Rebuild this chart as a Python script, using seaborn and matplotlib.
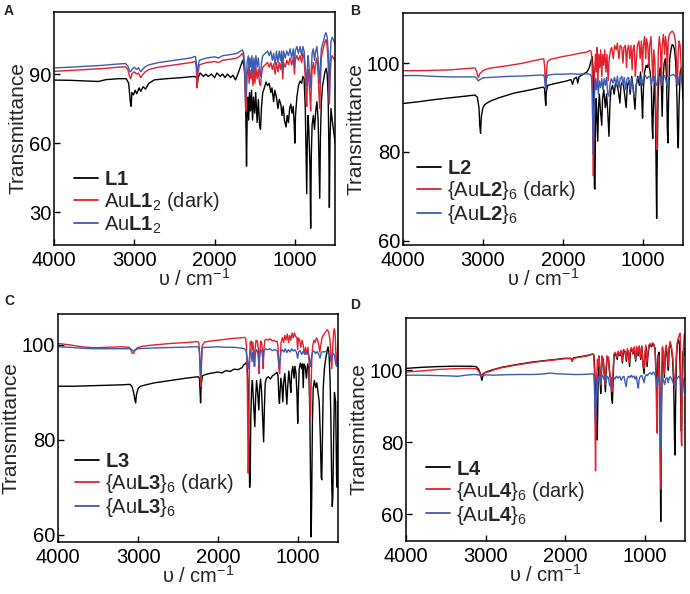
import matplotlib
matplotlib.use("Agg")
import matplotlib.pyplot as plt
import seaborn as sns

# -------------------------------
# DATA (wavenumber cm-1, transmittance %)
# -------------------------------
a_l1 = [(4000, 87.4), (3800, 87.3), (3600, 87.0), (3450, 86.8), (3350, 87.6), (3200, 88.0), (3100, 88.0),
        (3070, 86), (3050, 78), (3040, 76), (3030, 82), (3010, 81), (2990, 83), (2970, 81.5), (2940, 84),
        (2920, 82.5), (2890, 84.5), (2860, 83.5), (2820, 86), (2750, 87.5), (2600, 88), (2400, 88.5),
        (2250, 89), (2225, 88.5), (2215, 85.5), (2205, 88.5), (2180, 90.5), (2140, 89), (2110, 90),
        (2080, 89), (2040, 90), (2000, 88.5), (1970, 90.5), (1930, 89), (1900, 90), (1870, 88.5),
        (1840, 90), (1800, 88.5), (1770, 89.5), (1740, 87.5), (1715, 89.5), (1690, 92), (1665, 94.5),
        (1650, 96), (1635, 94), (1620, 88), (1610, 70), (1602, 50), (1594, 72), (1585, 80), (1575, 70),
        (1565, 82), (1552, 74), (1540, 83), (1527, 70), (1515, 80), (1500, 73), (1488, 82), (1470, 69),
        (1455, 79), (1440, 68), (1428, 66), (1415, 76), (1400, 82), (1380, 84), (1360, 86.5), (1340, 85),
        (1320, 86), (1300, 82), (1285, 84), (1265, 78), (1250, 83), (1230, 80), (1210, 75), (1195, 79),
        (1175, 77), (1160, 72), (1145, 76), (1130, 70), (1110, 67), (1095, 72), (1080, 69), (1065, 75),
        (1050, 77), (1035, 73), (1020, 76), (1008, 68), (1000, 60), (992, 72), (975, 80), (955, 85),
        (935, 87), (915, 86), (900, 89), (885, 88), (870, 75), (860, 55), (852, 38), (845, 60), (835, 72),
        (825, 65), (812, 50), (803, 23), (795, 55), (785, 68), (770, 72), (755, 66), (740, 74), (725, 78),
        (710, 70), (698, 50), (690, 36), (682, 62), (670, 78), (655, 85), (640, 88), (625, 91), (610, 92.5),
        (597, 90), (585, 80), (577, 60), (570, 32), (562, 62), (550, 75), (535, 70), (520, 66), (505, 62),
        (500, 60)]

a_dark = [(4000, 91.2), (3800, 91.6), (3600, 92.0), (3400, 92.4), (3200, 93.0), (3110, 93.2), (3080, 92),
          (3060, 89), (3045, 88), (3030, 90), (3000, 91), (2970, 90), (2950, 90.5), (2920, 88.5),
          (2900, 89.5), (2870, 90.8), (2820, 92), (2700, 93), (2500, 94), (2300, 95), (2240, 95.5),
          (2228, 93), (2218, 84), (2208, 90), (2190, 94), (2150, 94.5), (2100, 95), (2000, 95.5), (1950, 95),
          (1900, 96), (1800, 96.5), (1720, 97), (1680, 98), (1655, 99), (1640, 97.5), (1625, 92), (1612, 74),
          (1604, 80), (1595, 90), (1580, 93), (1570, 86), (1560, 92), (1548, 88), (1535, 93), (1522, 85),
          (1510, 92), (1498, 86), (1485, 93), (1470, 88), (1455, 92), (1440, 86), (1428, 85), (1415, 90),
          (1400, 93), (1370, 94), (1340, 95), (1320, 93), (1300, 95), (1280, 92), (1265, 94.5), (1245, 90),
          (1230, 95), (1210, 91), (1195, 95), (1178, 92), (1165, 96), (1150, 88), (1140, 95), (1120, 93),
          (1100, 96), (1080, 94), (1060, 97), (1040, 94), (1020, 97), (1005, 90), (995, 96), (975, 98),
          (955, 96), (935, 98), (915, 95), (900, 99), (885, 97), (870, 88), (860, 80), (852, 76), (845, 85),
          (835, 92), (825, 88), (812, 80), (803, 74), (795, 84), (785, 92), (770, 95), (755, 90), (740, 95),
          (725, 97), (710, 90), (698, 80), (690, 75), (682, 86), (670, 97), (655, 100), (640, 102),
          (625, 104), (612, 105), (597, 102), (585, 95), (577, 85), (570, 77), (562, 88), (550, 96),
          (535, 98), (520, 97), (500, 96)]

a_light = [(4000, 92.7), (3800, 93.0), (3600, 93.4), (3400, 93.8), (3200, 94.4), (3110, 94.6), (3080, 93.5),
           (3060, 91.5), (3045, 91), (3030, 92), (3000, 93), (2970, 92), (2950, 92.8), (2920, 91), (2900, 92),
           (2870, 93), (2820, 94), (2700, 95), (2500, 96), (2300, 97), (2240, 97.7), (2228, 95.5), (2218, 90),
           (2208, 93), (2190, 96), (2150, 96.5), (2100, 97), (2000, 97.5), (1950, 97), (1900, 98), (1800, 98.5),
           (1720, 99), (1680, 100), (1655, 100.5), (1640, 99.5), (1625, 95), (1612, 80), (1604, 86),
           (1595, 95), (1580, 98), (1570, 91), (1560, 97), (1548, 93), (1535, 98), (1522, 90), (1510, 97),
           (1498, 91), (1485, 98), (1470, 93), (1455, 97), (1440, 91), (1428, 89), (1415, 95), (1400, 98),
           (1370, 99), (1340, 100), (1320, 98), (1300, 100), (1280, 96), (1265, 99), (1245, 94), (1230, 100),
           (1210, 95), (1195, 100), (1178, 96), (1165, 100), (1150, 92), (1140, 100), (1120, 97), (1100, 100),
           (1080, 98), (1060, 101), (1040, 97), (1020, 101), (1005, 94), (995, 100), (975, 102), (955, 99),
           (935, 102), (915, 98), (900, 102), (885, 100), (870, 93), (860, 88), (852, 85), (845, 92),
           (835, 98), (825, 94), (812, 88), (803, 84), (795, 92), (785, 99), (770, 101), (755, 96), (740, 100),
           (725, 102), (710, 96), (698, 89), (690, 86), (682, 94), (670, 101), (655, 103), (640, 105),
           (625, 107), (612, 108), (597, 106), (585, 100), (577, 90), (570, 80), (562, 95), (550, 104),
           (535, 106), (520, 105), (500, 103)]

b_l2 = [(4000, 90.9), (3800, 91.3), (3600, 91.8), (3400, 92.2), (3200, 92.6), (3100, 92.8), (3070, 92.3),
        (3050, 90), (3040, 86), (3030, 84.2), (3020, 88), (3000, 90), (2980, 90.6), (2950, 91), (2900, 91.5),
        (2800, 92.2), (2600, 93.3), (2400, 94.0), (2250, 94.6), (2230, 94.3), (2222, 92), (2215, 90.5),
        (2208, 93.5), (2190, 95), (2100, 95.4), (2000, 95.8), (1950, 96), (1900, 96.3), (1880, 95.2),
        (1860, 96.5), (1830, 96.8), (1815, 95.5), (1800, 96.9), (1750, 97.5), (1700, 98.0), (1670, 99),
        (1650, 100.5), (1635, 101.5), (1625, 99), (1615, 90), (1607, 72), (1600, 71.6), (1593, 86),
        (1585, 92), (1575, 88), (1565, 82.4), (1555, 90), (1545, 93), (1530, 89), (1515, 86), (1505, 92),
        (1490, 94), (1470, 90), (1455, 93), (1440, 89), (1425, 83.5), (1412, 91), (1400, 94), (1380, 95),
        (1360, 93), (1340, 96), (1310, 94), (1288, 91), (1275, 95), (1250, 96), (1230, 93), (1210, 90),
        (1195, 95), (1175, 96), (1160, 93), (1140, 97), (1120, 94), (1100, 89.6), (1085, 95), (1065, 97),
        (1045, 95), (1030, 98), (1015, 92), (1005, 87.6), (995, 94), (980, 98), (960, 99.5), (945, 99),
        (930, 100), (910, 98), (895, 95), (885, 86), (878, 83), (870, 90), (855, 97), (843, 88), (835, 75),
        (829, 65), (822, 78), (812, 92), (800, 97), (785, 99), (770, 95), (760, 88), (750, 96), (735, 100),
        (720, 101), (705, 97), (695, 85), (688, 82), (680, 92), (665, 101), (650, 103), (635, 104.2),
        (620, 104), (605, 103), (590, 100), (575, 92), (565, 82), (558, 80.9), (550, 90), (535, 98),
        (520, 99), (505, 94), (500, 92)]

b_dark = [(4000, 98.3), (3800, 98.3), (3600, 98.4), (3400, 98.5), (3200, 98.8), (3100, 98.9), (3080, 98.2),
          (3065, 97), (3055, 96.8), (3040, 97.6), (3000, 98.3), (2950, 98.7), (2900, 98.9), (2700, 99.4),
          (2500, 100.0), (2300, 100.8), (2240, 101.0), (2228, 99), (2220, 95), (2214, 94.6), (2207, 98),
          (2195, 100.3), (2150, 100.9), (2000, 101.5), (1900, 101.8), (1800, 102.2), (1700, 102.5),
          (1660, 102.9), (1645, 102.5), (1635, 99), (1627, 85), (1620, 74.6), (1613, 85), (1605, 97),
          (1595, 102), (1583, 98), (1575, 103.5), (1563, 96), (1553, 102), (1540, 99), (1528, 103),
          (1515, 97), (1505, 102), (1490, 99.5), (1478, 103), (1463, 98), (1450, 102), (1435, 96),
          (1422, 101), (1405, 103), (1390, 103.5), (1370, 101), (1355, 104), (1335, 103), (1320, 104.5),
          (1300, 101), (1285, 104), (1265, 103.5), (1250, 100), (1238, 103.5), (1220, 104), (1205, 99),
          (1195, 103), (1180, 104), (1165, 101), (1150, 104), (1135, 98.5), (1125, 103), (1110, 104),
          (1095, 97), (1085, 100), (1070, 104), (1050, 105), (1035, 101), (1020, 105), (1005, 98), (995, 104),
          (980, 106), (965, 101), (955, 105.5), (940, 104), (925, 99), (915, 104), (900, 106), (885, 100),
          (875, 96), (865, 103), (850, 100), (840, 90), (832, 82), (826, 80.5), (818, 92), (808, 103),
          (795, 106), (780, 103), (770, 95), (760, 104), (745, 106.5), (730, 102), (718, 106), (705, 104),
          (695, 97), (685, 105), (670, 106.5), (650, 107), (630, 107.2), (610, 106.5), (595, 105), (580, 100),
          (570, 95), (560, 102), (548, 105), (535, 104), (520, 98), (510, 96), (500, 95)]

b_light = [(4000, 97.2), (3800, 97.2), (3600, 97.0), (3400, 96.9), (3200, 96.9), (3100, 96.9), (3075, 96.5),
           (3060, 96), (3045, 96.2), (3000, 96.7), (2900, 96.8), (2700, 97.0), (2500, 97.1), (2300, 97.3),
           (2240, 97.3), (2228, 96.5), (2220, 94.5), (2213, 94.2), (2206, 96.5), (2190, 97.3), (2100, 97.5),
           (2000, 97.5), (1900, 97.6), (1800, 97.5), (1700, 97.6), (1660, 97.5), (1645, 97), (1635, 94),
           (1627, 85), (1620, 79.4), (1613, 86), (1605, 93), (1595, 96.5), (1583, 94), (1570, 96.8),
           (1558, 93), (1545, 96), (1530, 94.5), (1515, 96.5), (1500, 94), (1485, 96.5), (1470, 95),
           (1455, 96.8), (1440, 93), (1425, 92.5), (1410, 95.5), (1395, 96.5), (1375, 95.5), (1355, 96.8),
           (1335, 95), (1320, 97), (1300, 94.5), (1285, 96.5), (1265, 97), (1250, 95), (1235, 96.8),
           (1215, 94), (1200, 96.5), (1180, 96.8), (1160, 94), (1145, 96.5), (1130, 95), (1115, 93),
           (1100, 92.2), (1088, 94.5), (1070, 96.5), (1050, 97), (1035, 95.5), (1020, 97), (1005, 95),
           (990, 97), (970, 97.2), (950, 96.5), (930, 97), (910, 96.8), (895, 95), (880, 96.5), (860, 97),
           (845, 95.5), (830, 95), (815, 96.5), (800, 97), (780, 96.8), (765, 95), (750, 97), (730, 97.2),
           (710, 96), (695, 94.5), (680, 96.8), (660, 97.2), (640, 97.3), (620, 97.4), (600, 97.2),
           (580, 96.5), (568, 95), (558, 95.3), (548, 97), (530, 97.2), (515, 96.5), (500, 96)]

c_l3 = [(4000, 91.3), (3800, 91.3), (3600, 91.4), (3400, 91.5), (3200, 91.6), (3100, 91.7), (3075, 91.2),
        (3055, 90), (3040, 88.5), (3030, 87.8), (3020, 89.5), (3000, 90.8), (2970, 91.3), (2900, 91.6),
        (2800, 92.0), (2600, 92.5), (2400, 93.0), (2250, 93.3), (2232, 93), (2224, 90), (2218, 87.8),
        (2211, 91.5), (2195, 93.5), (2150, 93.8), (2100, 94), (2000, 94.3), (1950, 94.1), (1900, 94.6),
        (1850, 94.4), (1800, 94.9), (1750, 94.8), (1700, 95.2), (1680, 95.8), (1660, 96.0), (1645, 96.3),
        (1635, 95.5), (1625, 92), (1615, 82), (1605, 70), (1598, 72), (1590, 85), (1580, 91), (1570, 92.5),
        (1560, 89), (1550, 86), (1540, 82.8), (1530, 89), (1518, 92.5), (1505, 90), (1490, 86.3), (1480, 91),
        (1468, 92.8), (1455, 90), (1440, 84), (1430, 79.6), (1420, 87), (1410, 92), (1395, 93), (1370, 93.3),
        (1345, 92.8), (1320, 93.5), (1300, 93.7), (1280, 94), (1262, 94.2), (1250, 93.5), (1240, 89),
        (1232, 87.7), (1225, 90), (1215, 93), (1200, 91), (1190, 88), (1180, 92), (1165, 94), (1150, 90),
        (1140, 87.5), (1130, 91), (1115, 94.5), (1100, 92), (1090, 90), (1080, 94), (1065, 95.5), (1050, 93),
        (1038, 95.5), (1025, 94), (1012, 89), (1004, 83.5), (996, 90), (985, 95), (970, 96.2), (955, 95),
        (945, 96), (935, 91), (925, 96), (910, 95.5), (895, 93), (880, 96), (865, 95), (852, 85), (842, 70),
        (836, 59.6), (829, 68), (820, 84), (810, 91), (795, 92.5), (780, 91), (765, 92), (750, 90),
        (735, 88), (720, 80), (710, 72), (703, 71.6), (695, 80), (685, 91), (670, 95), (655, 97),
        (640, 98.5), (625, 99.6), (612, 98), (600, 93), (590, 85), (580, 72), (572, 66), (565, 68),
        (555, 80), (545, 90), (530, 88), (518, 72), (510, 70), (500, 88)]

c_dark = [(4000, 100.3), (3850, 100.0), (3700, 99.6), (3550, 99.4), (3400, 99.5), (3200, 99.6), (3110, 99.5),
          (3090, 99), (3075, 98.3), (3055, 98.2), (3040, 98.8), (3010, 99.4), (2950, 99.7), (2800, 100.0),
          (2600, 100.3), (2400, 100.5), (2260, 100.7), (2240, 100.5), (2230, 98), (2222, 93), (2216, 91.2),
          (2209, 95), (2198, 99.8), (2170, 100.6), (2100, 100.8), (2000, 101.0), (1900, 101.2), (1800, 101.4),
          (1700, 101.5), (1670, 101.6), (1655, 101.4), (1645, 99.8), (1635, 93), (1627, 80), (1622, 73),
          (1616, 80), (1608, 95), (1598, 100.5), (1585, 100.8), (1575, 99), (1565, 100.6), (1553, 98),
          (1545, 95.5), (1537, 99), (1525, 101), (1510, 100.8), (1495, 99), (1487, 94), (1479, 98),
          (1468, 100.8), (1455, 100.5), (1443, 98.5), (1435, 95), (1427, 99), (1415, 101), (1395, 101.2),
          (1370, 101), (1350, 101.3), (1320, 100.8), (1300, 101), (1280, 100.7), (1262, 100.8), (1250, 99.5),
          (1240, 95), (1230, 94), (1222, 97), (1212, 100.5), (1195, 101.5), (1180, 100.5), (1165, 102),
          (1150, 101), (1135, 102.3), (1118, 100.5), (1105, 102), (1090, 101), (1075, 102.5), (1060, 101.5),
          (1045, 102.5), (1030, 101.8), (1015, 101.5), (1005, 99), (995, 101.5), (980, 101), (965, 99.5),
          (950, 101), (935, 100), (920, 98), (905, 99.5), (890, 98), (875, 99.5), (860, 96), (852, 88),
          (845, 84.6), (838, 90), (828, 97), (815, 100), (800, 101), (785, 100.5), (770, 101.5), (755, 101),
          (740, 100), (728, 98.5), (715, 100), (700, 101.5), (685, 102), (665, 102.5), (645, 103),
          (630, 103.2), (615, 102.5), (600, 101), (590, 98), (578, 95), (568, 99), (555, 102.8),
          (545, 103.4), (535, 102), (525, 97), (515, 96), (505, 99), (500, 101)]

c_light = [(4000, 99.6), (3850, 99.5), (3700, 99.3), (3550, 99.2), (3400, 99.2), (3200, 99.2), (3100, 99.2),
           (3080, 99), (3060, 98.7), (3040, 98.9), (3000, 99.2), (2900, 99.3), (2700, 99.4), (2500, 99.5),
           (2300, 99.6), (2245, 99.6), (2232, 98.5), (2222, 95), (2216, 93.5), (2209, 96.5), (2198, 99.4),
           (2150, 99.5), (2000, 99.6), (1900, 99.5), (1800, 99.5), (1700, 99.3), (1670, 99.2), (1650, 98.8),
           (1638, 97.5), (1628, 95.5), (1620, 95), (1612, 96.5), (1600, 98.5), (1590, 99), (1575, 96.5),
           (1565, 98.5), (1553, 97), (1543, 95.5), (1535, 98), (1520, 99), (1505, 98.5), (1490, 96),
           (1482, 97.5), (1468, 99), (1450, 98.5), (1438, 96.5), (1428, 98.5), (1410, 99.2), (1380, 99),
           (1350, 99.2), (1320, 98.8), (1290, 99), (1262, 98.8), (1248, 97.5), (1238, 95.5), (1228, 96.5),
           (1215, 98.5), (1195, 99), (1175, 98.5), (1160, 99.2), (1140, 98.4), (1120, 99), (1100, 98.5),
           (1080, 99.2), (1060, 98.7), (1040, 99), (1020, 98.5), (1005, 97.2), (995, 98.5), (975, 98.8),
           (955, 98), (935, 98.7), (915, 98), (895, 98.6), (875, 98.2), (860, 97.5), (850, 96), (842, 95.5),
           (835, 97), (820, 98.5), (800, 98.7), (780, 98.2), (760, 98.6), (740, 98), (725, 97.2), (710, 98.4),
           (690, 98.6), (670, 98.5), (650, 98.7), (630, 98.4), (610, 98), (595, 97.5), (585, 96.5), (575, 98),
           (560, 98.3), (545, 97.8), (530, 96), (518, 95.5), (505, 97.5), (500, 98)]

d_l4 = [(4000, 100.5), (3800, 100.8), (3600, 101.0), (3400, 101.1), (3200, 101.1), (3120, 101.0),
        (3090, 100.3), (3065, 99), (3050, 97.2), (3040, 98), (3020, 99.2), (2980, 99.6), (2900, 100.2),
        (2800, 100.8), (2600, 101.6), (2400, 102.3), (2200, 102.8), (2000, 103.3), (1930, 103.3),
        (1915, 102.5), (1900, 103.4), (1800, 103.8), (1700, 104.2), (1660, 104.5), (1645, 104.3),
        (1635, 102), (1625, 95), (1615, 86), (1607, 81), (1600, 80.6), (1593, 92), (1585, 102), (1575, 103.5),
        (1565, 98), (1557, 93.5), (1548, 99), (1538, 103.5), (1525, 103), (1512, 99), (1498, 94), (1488, 100),
        (1475, 103.8), (1460, 103.5), (1445, 99), (1430, 97), (1418, 92), (1410, 90.8), (1402, 97),
        (1390, 104), (1370, 104.5), (1350, 103), (1335, 105), (1315, 104), (1300, 105.2), (1285, 102),
        (1270, 105.5), (1250, 105), (1235, 102.5), (1220, 105.6), (1205, 104), (1195, 101), (1185, 105),
        (1170, 106), (1150, 104.5), (1135, 106), (1118, 102.5), (1105, 106.3), (1088, 104), (1072, 106.5),
        (1055, 103), (1040, 106.5), (1025, 101), (1012, 99), (1000, 104), (990, 106.5), (975, 101),
        (965, 104), (950, 106.8), (935, 107), (920, 106.5), (905, 107.2), (890, 107), (875, 106), (862, 100),
        (852, 92), (846, 95), (838, 104), (825, 105), (815, 95), (808, 70), (804, 57.9), (800, 70), (792, 96),
        (782, 106), (770, 103), (758, 98), (748, 104), (735, 106.5), (720, 103), (708, 100), (698, 106),
        (685, 107.5), (670, 106), (655, 103), (640, 95), (630, 80), (624, 76.4), (618, 90), (608, 103),
        (595, 107.5), (580, 108.4), (568, 107), (560, 100), (552, 90), (545, 83), (538, 95), (525, 105),
        (510, 106), (500, 104)]

d_dark = [(4000, 99.5), (3800, 99.8), (3600, 100.2), (3400, 100.4), (3200, 100.5), (3120, 100.4), (3090, 99.8),
          (3065, 98.8), (3050, 98.6), (3035, 99), (3010, 99.3), (2950, 99.6), (2900, 100.1), (2800, 100.7),
          (2600, 101.5), (2400, 102.2), (2200, 102.7), (2000, 103.2), (1930, 103.2), (1915, 102.4),
          (1900, 103.3), (1800, 103.7), (1700, 104.1), (1660, 104.5), (1645, 104.3), (1637, 100), (1628, 85),
          (1622, 72), (1616, 85), (1608, 98), (1598, 103), (1588, 101), (1578, 104), (1567, 99), (1558, 96),
          (1550, 100), (1540, 104), (1528, 103), (1515, 99.5), (1500, 96), (1490, 100.5), (1478, 104),
          (1462, 103.5), (1448, 100), (1433, 98), (1420, 95), (1412, 94), (1404, 99), (1392, 104.5),
          (1372, 105), (1352, 103.5), (1337, 105.3), (1318, 104.2), (1302, 105.5), (1287, 102.5),
          (1272, 105.8), (1252, 105.3), (1237, 103), (1222, 106), (1207, 104.3), (1197, 102), (1187, 105.5),
          (1172, 106.3), (1152, 104.8), (1137, 106.5), (1120, 103), (1107, 106.6), (1090, 104.5),
          (1074, 106.8), (1057, 103.5), (1042, 106.8), (1027, 102), (1015, 100.5), (1002, 104.5), (992, 107),
          (977, 102), (967, 104.5), (952, 107), (937, 107.4), (922, 106.8), (907, 107.6), (892, 107.3),
          (877, 106), (864, 99), (855, 86), (848, 82.5), (841, 96), (830, 104), (818, 97), (810, 80), (805, 67),
          (800, 78), (792, 98), (782, 106.5), (770, 104), (758, 99), (748, 105), (735, 107), (720, 104),
          (708, 101), (698, 106.5), (685, 108), (670, 106.5), (655, 104), (642, 100), (632, 96), (625, 95),
          (617, 99), (605, 106), (590, 108.5), (575, 109.5), (560, 110.3), (552, 100), (546, 80), (540, 79),
          (532, 95), (518, 107), (508, 110), (500, 110)]

d_light = [(4000, 98.6), (3800, 98.6), (3600, 98.5), (3450, 98.4), (3350, 98.3), (3250, 98.6), (3150, 98.8),
           (3080, 98.7), (3060, 98.3), (3040, 98.5), (3000, 98.7), (2900, 98.6), (2800, 98.7), (2600, 98.8),
           (2400, 98.8), (2250, 99.0), (2200, 99.2), (2100, 99), (2000, 98.9), (1900, 98.8), (1800, 98.8),
           (1700, 98.9), (1660, 99.0), (1645, 98.8), (1636, 96), (1628, 88), (1622, 85.3), (1615, 90),
           (1607, 96), (1597, 98.5), (1585, 97), (1573, 98.5), (1560, 96.5), (1548, 98.3), (1535, 98.5),
           (1520, 97.5), (1505, 98.5), (1490, 96.5), (1478, 98.3), (1462, 98), (1447, 96), (1435, 95.5),
           (1422, 97.8), (1400, 98.3), (1380, 97.5), (1360, 98.3), (1340, 97.8), (1320, 98.3), (1300, 97.2),
           (1285, 98), (1265, 98.3), (1250, 96.5), (1238, 95.4), (1226, 97.5), (1210, 98.3), (1190, 98),
           (1175, 98.6), (1160, 98), (1140, 98.4), (1125, 97.5), (1110, 98.3), (1095, 96), (1085, 95),
           (1075, 97.5), (1060, 98.3), (1040, 98.5), (1025, 97.5), (1012, 96.5), (1000, 98.2), (985, 98.8),
           (970, 98.5), (955, 99), (935, 99.3), (915, 98.8), (900, 99.5), (885, 99.2), (870, 98.3), (858, 97),
           (849, 95.5), (841, 98), (830, 98.5), (818, 96.5), (810, 88), (805, 78), (800, 86), (792, 96),
           (782, 98.5), (770, 97), (755, 96), (742, 97.5), (725, 98), (710, 96.5), (698, 97.8), (685, 98.2),
           (665, 97.5), (648, 96.5), (632, 95.5), (620, 96.5), (605, 97.5), (590, 98), (575, 98.3), (560, 98),
           (548, 96), (538, 93), (528, 94), (515, 97.5), (500, 98)]

panel_letters = ["A", "B", "C", "D"]
label_sets = [
    [r"$\mathbf{L1}$", r"Au$\mathbf{L1}_2$ (dark)", r"Au$\mathbf{L1}_2$"],
    [r"$\mathbf{L2}$", r"{Au$\mathbf{L2}$}$_6$ (dark)", r"{Au$\mathbf{L2}$}$_6$"],
    [r"$\mathbf{L3}$", r"{Au$\mathbf{L3}$}$_6$ (dark)", r"{Au$\mathbf{L3}$}$_6$"],
    [r"$\mathbf{L4}$", r"{Au$\mathbf{L4}$}$_6$ (dark)", r"{Au$\mathbf{L4}$}$_6$"],
]
series_sets = [
    [a_l1, a_dark, a_light],
    [b_l2, b_dark, b_light],
    [c_l3, c_dark, c_light],
    [d_l4, d_dark, d_light],
]
y_ticks = [[30, 60, 90], [60, 80, 100], [60, 80, 100], [60, 80, 100]]
x_ticks = [4000, 3000, 2000, 1000]

# -------------------------------
# LAYOUT / STYLE
# -------------------------------
colors = ["#000000", "#e3202b", "#3c5cb4"]
ylims = [(15.7, 117), (59, 111.3), (58.5, 106.5), (52.5, 114.5)]
rects = [
    [0.0783, 0.5875, 0.4072, 0.3923],
    [0.5840, 0.5875, 0.4058, 0.3906],
    [0.0841, 0.0875, 0.4058, 0.3838],
    [0.5884, 0.0892, 0.4043, 0.3754],
]
leg_anchor = [(0.07, 0.04), (0.05, 0.08), (0.06, 0.10), (0.07, 0.065)]
# panel letter positions in pixels from top-left
letter_px = [(4, 4), (350, 4), (4, 294), (350, 298)]

sns.set_theme(style="ticks")
plt.rcParams["font.family"] = ["Liberation Sans", "DejaVu Sans"]
plt.rcParams["mathtext.fontset"] = "custom"
plt.rcParams["mathtext.rm"] = "Liberation Sans"
plt.rcParams["mathtext.it"] = "Liberation Sans:italic"
plt.rcParams["mathtext.bf"] = "Liberation Sans:bold"

W, H = 690, 594
fig = plt.figure(figsize=(W / 100, H / 100), dpi=100)

for i in range(4):
    ax = fig.add_axes(rects[i])
    for pts, col, lab in zip(series_sets[i], colors, label_sets[i]):
        nu = [p[0] for p in pts]
        tr = [p[1] for p in pts]
        sns.lineplot(x=nu, y=tr, color=col, linewidth=1.0, sort=False,
                     estimator=None, label=lab, ax=ax)

    ax.set_xlim(4000, 500)
    ax.set_ylim(*ylims[i])
    ax.set_xticks(x_ticks)
    ax.set_yticks(y_ticks[i])
    ax.tick_params(direction="in", length=4, width=1, labelsize=14.5, colors="black")
    ax.tick_params(axis="x", pad=4)
    ax.tick_params(axis="y", pad=2)
    for s in ax.spines.values():
        s.set_linewidth(1.1)
        s.set_color("black")
    ax.set_xlabel(r"υ / cm$^{-1}$", fontsize=14.5, labelpad=-1)
    ax.set_ylabel("Transmittance", fontsize=15, labelpad=1)

    leg = ax.legend(loc="lower left", bbox_to_anchor=leg_anchor[i], frameon=False,
                    fontsize=14.5, handlelength=1.2, handletextpad=0.3,
                    labelspacing=0.05, borderpad=0, borderaxespad=0)
    for h in leg.get_lines():
        h.set_linewidth(1.3)

    lx, ly = letter_px[i]
    fig.text(lx / W, 1 - ly / H, panel_letters[i], fontsize=10,
             fontweight="bold", ha="left", va="top")

fig.savefig("out.png", dpi=100)
